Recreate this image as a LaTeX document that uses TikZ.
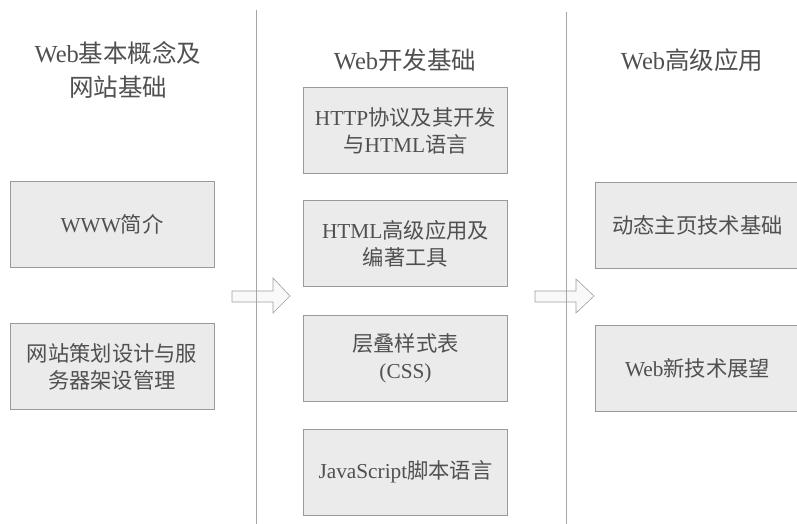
\documentclass[tikz,border=0pt]{standalone}
\usepackage{fontspec}
\setmainfont{Liberation Serif}
\newfontfamily\cjk{Noto Sans CJK SC}
\newcommand{\zh}[1]{{\cjk #1}}
\definecolor{inkgray}{HTML}{505050}
\definecolor{boxfill}{HTML}{EBEBEB}
\definecolor{boxline}{HTML}{9A9A9A}
\begin{document}
\begin{tikzpicture}[x=1pt, y=-1pt,
    title/.style={text=inkgray, align=center, font=\fontsize{24.5}{34}\selectfont},
    topic/.style={draw=boxline, fill=boxfill, text=inkgray, align=center,
        minimum width=204pt, minimum height=86pt, inner sep=0pt,
        font=\fontsize{21.3}{27}\selectfont},
    blockarrow/.style={draw=gray!75, fill=gray!5, line width=0.6pt, line join=miter},
    divider/.style={gray!70, line width=0.6pt}]
    \useasboundingbox[fill=white] (0,0) rectangle (797,524);
    \clip (0,0) rectangle (797,524);

    % Left column: Web basics
    \node[title] (tleft) at (118, 70) {Web\zh{基本概念及}\\\zh{网站基础}};
    \node[topic] (www) at (112, 224) {WWW\zh{简介}};
    \node[topic] (site) at (112, 366.5) {\zh{网站策划设计与服}\\\zh{务器架设管理}};

    % Middle column: Web development
    \node[title] (tmid) at (405, 60) {Web\zh{开发基础}};
    \node[topic] (http) at (405.5, 130.5) {HTTP\zh{协议及其开发}\\\zh{与}HTML\zh{语言}};
    \node[topic] (html) at (405.5, 243.5) {HTML\zh{高级应用及}\\\zh{编著工具}};
    \node[topic] (css) at (405.5, 358) {\zh{层叠样式表}\\(CSS)};
    \node[topic] (js) at (405.5, 472) {JavaScript\zh{脚本语言}};

    % Right column: advanced Web
    \node[title] (tright) at (692, 60) {Web\zh{高级应用}};
    \node[topic] (dyn) at (697.5, 225) {\zh{动态主页技术基础}};
    \node[topic] (future) at (697.5, 368.5) {Web\zh{新技术展望}};

    % Block arrows between the columns
    \draw[blockarrow] (232,291) -- (273,291) -- (273,278) -- (290,296)
        -- (273,313) -- (273,302) -- (232,302) -- cycle;
    \draw[blockarrow] (535,291) -- (576,291) -- (576,279) -- (594,296)
        -- (576,313) -- (576,302) -- (535,302) -- cycle;

    % Column dividers
    \draw[divider] (256,10) -- (256,524);
    \draw[divider] (566,12) -- (566,524);
\end{tikzpicture}
\end{document}
